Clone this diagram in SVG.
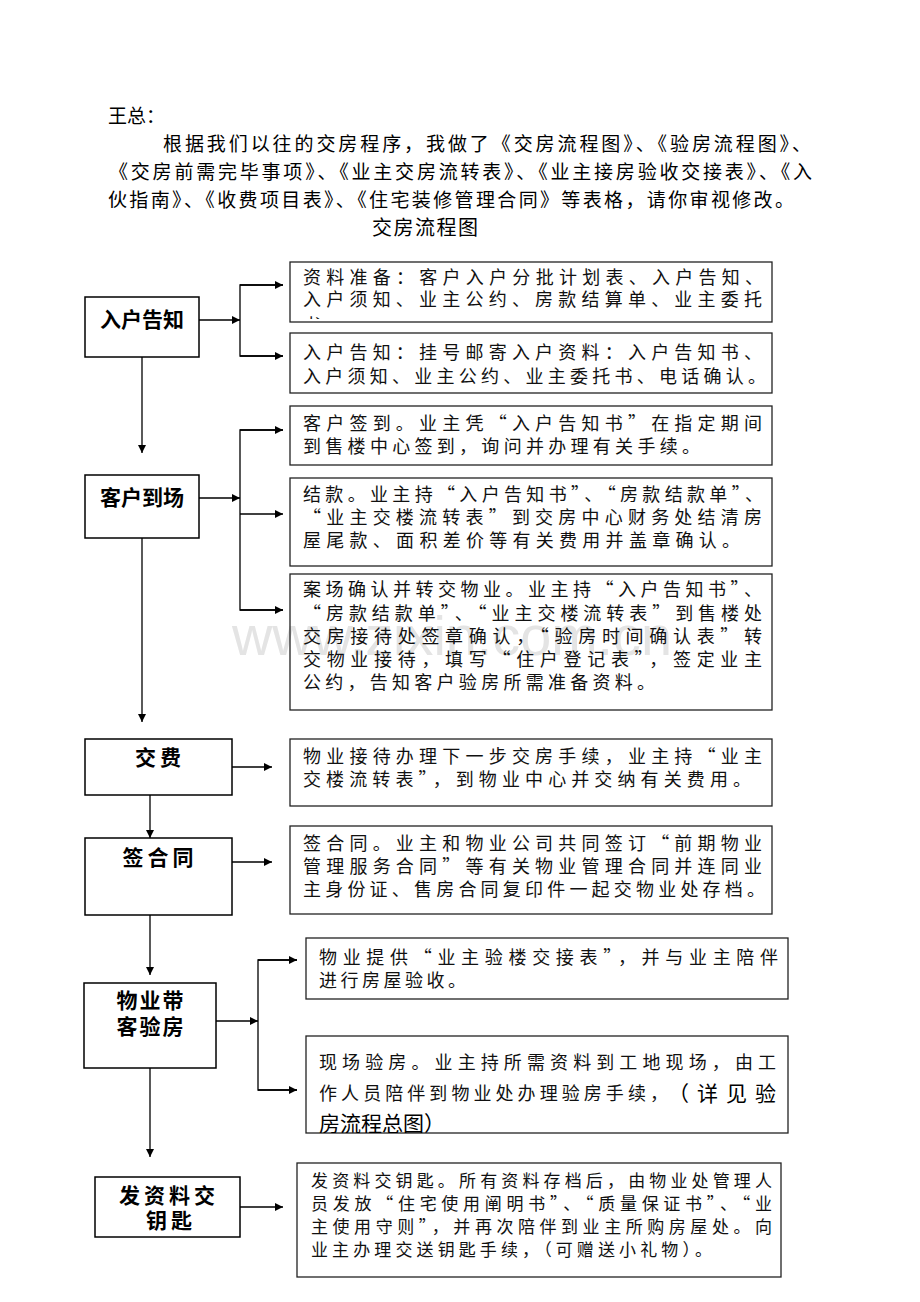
<svg xmlns="http://www.w3.org/2000/svg" width="920" height="1302" viewBox="0 0 920 1302">
<style>
.hd{font-family:"Noto Sans CJK SC","Noto Sans",sans-serif;font-size:19px;fill:#000}
.ti{font-family:"Noto Sans CJK SC","Noto Sans",sans-serif;font-size:20px;fill:#000}
.nb{fill:#fff;stroke:#000;stroke-width:1.5}
.rb{fill:none;stroke:#222;stroke-width:1.3}
.nt{font-family:"Noto Sans CJK SC","Noto Sans",sans-serif;font-size:21px;font-weight:bold;fill:#000;text-anchor:middle}
.bt{font-family:"Noto Sans CJK SC","Noto Sans",sans-serif;font-size:18px;fill:#111}
.bc{font-family:"Noto Sans CJK SC","Noto Sans",sans-serif;font-size:17px;fill:#111}
.bs{font-family:"Noto Sans CJK SC","Noto Sans",sans-serif;font-size:21px;fill:#000}
.ln{fill:none;stroke:#000;stroke-width:1.3}
.wm{font-family:"Liberation Sans",Arial,sans-serif;font-size:56px;fill:#e4e4e4}
</style>
<defs>
<marker id="ah" viewBox="0 0 10 10" refX="10" refY="5" markerWidth="8" markerHeight="8" markerUnits="userSpaceOnUse" orient="auto">
<path d="M0,0 L10,5 L0,10 z" fill="#000"/>
</marker>
<clipPath id="c1"><rect x="290" y="262" width="482" height="57"/></clipPath>
<clipPath id="c9"><rect x="306" y="1036" width="482" height="97"/></clipPath>
</defs>
<rect width="920" height="1302" fill="#fff"/>

<g id="header">
<text class="hd" x="108" y="123">王总：</text>
<text class="hd" x="163" y="151" textLength="648" lengthAdjust="spacing">根据我们以往的交房程序，我做了《交房流程图》、《验房流程图》、</text>
<text class="hd" x="109" y="179" textLength="703" lengthAdjust="spacing">《交房前需完毕事项》、《业主交房流转表》、《业主接房验收交接表》、《入</text>
<text class="hd" x="108" y="207" textLength="686" lengthAdjust="spacing">伙指南》、《收费项目表》、《住宅装修管理合同》等表格，请你审视修改。</text>
<text class="ti" x="372" y="235" textLength="106" lengthAdjust="spacing">交房流程图</text>
</g>

<text class="wm" x="232" y="655" textLength="440" lengthAdjust="spacingAndGlyphs">www.zixin.com.cn</text>

<g id="connectors">
<line class="ln" x1="199" y1="320" x2="240" y2="320" marker-end="url(#ah)"/>
<polyline class="ln" points="283,285 240,285 240,356 283,356"/>
<line class="ln" x1="240" y1="285" x2="283" y2="285" marker-end="url(#ah)"/>
<line class="ln" x1="240" y1="356" x2="283" y2="356" marker-end="url(#ah)"/>
<line class="ln" x1="142" y1="357" x2="142" y2="453" marker-end="url(#ah)"/>

<line class="ln" x1="199" y1="498" x2="240" y2="498" marker-end="url(#ah)"/>
<polyline class="ln" points="283,430 240,430 240,610 283,610"/>
<line class="ln" x1="240" y1="430" x2="283" y2="430" marker-end="url(#ah)"/>
<line class="ln" x1="240" y1="514" x2="283" y2="514" marker-end="url(#ah)"/>
<line class="ln" x1="240" y1="610" x2="283" y2="610" marker-end="url(#ah)"/>
<line class="ln" x1="142" y1="538" x2="142" y2="722" marker-end="url(#ah)"/>

<line class="ln" x1="232" y1="767" x2="272" y2="767" marker-end="url(#ah)"/>
<line class="ln" x1="150" y1="795" x2="150" y2="838" marker-end="url(#ah)"/>

<line class="ln" x1="232" y1="862" x2="272" y2="862" marker-end="url(#ah)"/>
<line class="ln" x1="150" y1="915" x2="150" y2="975" marker-end="url(#ah)"/>

<line class="ln" x1="216" y1="1021" x2="258" y2="1021" marker-end="url(#ah)"/>
<polyline class="ln" points="297,960 258,960 258,1090 297,1090"/>
<line class="ln" x1="258" y1="960" x2="297" y2="960" marker-end="url(#ah)"/>
<line class="ln" x1="258" y1="1090" x2="297" y2="1090" marker-end="url(#ah)"/>
<line class="ln" x1="150" y1="1068" x2="150" y2="1157" marker-end="url(#ah)"/>

<line class="ln" x1="240" y1="1207" x2="283" y2="1207" marker-end="url(#ah)"/>
</g>

<g id="n1">
<rect class="nb" x="85" y="297" width="114" height="60"/>
<text class="nt" x="142" y="327">入户告知</text>
</g>
<g id="n2">
<rect class="nb" x="85" y="475" width="114" height="63"/>
<text class="nt" x="142" y="505">客户到场</text>
</g>
<g id="n3">
<rect class="nb" x="85" y="739" width="147" height="56"/>
<text class="nt" x="160" y="765" letter-spacing="4">交费</text>
</g>
<g id="n4">
<rect class="nb" x="85" y="838" width="147" height="77"/>
<text class="nt" x="160" y="865" letter-spacing="4">签合同</text>
</g>
<g id="n5">
<rect class="nb" x="84" y="983" width="132" height="85"/>
<text class="nt" x="151" y="1008" letter-spacing="2">物业带</text>
<text class="nt" x="151" y="1034" letter-spacing="2">客验房</text>
</g>
<g id="n6">
<rect class="nb" x="95" y="1177" width="145" height="60"/>
<text class="nt" x="169" y="1203" letter-spacing="4">发资料交</text>
<text class="nt" x="171" y="1228" letter-spacing="4">钥匙</text>
</g>

<g id="r1">
<rect class="rb" x="290" y="262" width="482" height="60"/>
<text class="bt" x="303" y="284" textLength="460" lengthAdjust="spacing">资料准备：客户入户分批计划表、入户告知、</text>
<text class="bt" x="303" y="306" textLength="459" lengthAdjust="spacing">入户须知、业主公约、房款结算单、业主委托</text>
<text class="bt" x="303" y="332" clip-path="url(#c1)">书。</text>
</g>
<g id="r2">
<rect class="rb" x="290" y="333" width="482" height="60"/>
<text class="bt" x="303" y="359" textLength="459" lengthAdjust="spacing">入户告知：挂号邮寄入户资料：入户告知书、</text>
<text class="bt" x="303" y="383" textLength="463" lengthAdjust="spacing">入户须知、业主公约、业主委托书、电话确认。</text>
</g>
<g id="r3">
<rect class="rb" x="290" y="406" width="482" height="59"/>
<text class="bt" x="303" y="430" textLength="459" lengthAdjust="spacing">客户签到。业主凭“入户告知书”在指定期间</text>
<text class="bt" x="303" y="453" textLength="397" lengthAdjust="spacing">到售楼中心签到，询问并办理有关手续。</text>
</g>
<g id="r4">
<rect class="rb" x="290" y="478" width="482" height="88"/>
<text class="bt" x="303" y="501" textLength="460" lengthAdjust="spacing">结款。业主持“入户告知书”、“房款结款单”、</text>
<text class="bt" x="303" y="524" textLength="459" lengthAdjust="spacing">“业主交楼流转表”到交房中心财务处结清房</text>
<text class="bt" x="303" y="547" textLength="437" lengthAdjust="spacing">屋尾款、面积差价等有关费用并盖章确认。</text>
</g>
<g id="r5">
<rect class="rb" x="290" y="574" width="482" height="136"/>
<text class="bt" x="303" y="596" textLength="459" lengthAdjust="spacing">案场确认并转交物业。业主持“入户告知书”、</text>
<text class="bt" x="303" y="620" textLength="459" lengthAdjust="spacing">“房款结款单”、“业主交楼流转表”到售楼处</text>
<text class="bt" x="303" y="643" textLength="459" lengthAdjust="spacing">交房接待处签章确认，“验房时间确认表”转</text>
<text class="bt" x="303" y="666" textLength="459" lengthAdjust="spacing">交物业接待，填写“住户登记表”，签定业主</text>
<text class="bt" x="303" y="689" textLength="352" lengthAdjust="spacing">公约，告知客户验房所需准备资料。</text>
</g>
<g id="r6">
<rect class="rb" x="290" y="739" width="482" height="67"/>
<text class="bt" x="303" y="763" textLength="459" lengthAdjust="spacing">物业接待办理下一步交房手续，业主持“业主</text>
<text class="bt" x="303" y="786" textLength="448" lengthAdjust="spacing">交楼流转表”，到物业中心并交纳有关费用。</text>
</g>
<g id="r7">
<rect class="rb" x="290" y="826" width="482" height="88"/>
<text class="bt" x="303" y="850" textLength="459" lengthAdjust="spacing">签合同。业主和物业公司共同签订“前期物业</text>
<text class="bt" x="303" y="873" textLength="459" lengthAdjust="spacing">管理服务合同”等有关物业管理合同并连同业</text>
<text class="bt" x="303" y="896" textLength="462" lengthAdjust="spacing">主身份证、售房合同复印件一起交物业处存档。</text>
</g>
<g id="r8">
<rect class="rb" x="306" y="938" width="482" height="61"/>
<text class="bt" x="319" y="964" textLength="459" lengthAdjust="spacing">物业提供“业主验楼交接表”，并与业主陪伴</text>
<text class="bt" x="319" y="987" textLength="147" lengthAdjust="spacing">进行房屋验收。</text>
</g>
<g id="r9">
<rect class="rb" x="306" y="1036" width="482" height="97"/>
<text class="bt" x="319" y="1069" textLength="457" lengthAdjust="spacing">现场验房。业主持所需资料到工地现场，由工</text>
<text class="bt" x="319" y="1100" textLength="349" lengthAdjust="spacing">作人员陪伴到物业处办理验房手续，</text>
<text class="bs" x="668" y="1101" textLength="108" lengthAdjust="spacing">（详见验</text>
<text class="bs" x="319" y="1131" clip-path="url(#c9)">房流程总图）</text>
</g>
<g id="r10">
<rect class="rb" x="297" y="1163" width="484" height="114"/>
<text class="bc" x="311" y="1187" textLength="461" lengthAdjust="spacing">发资料交钥匙。所有资料存档后，由物业处管理人</text>
<text class="bc" x="311" y="1210" textLength="461" lengthAdjust="spacing">员发放“住宅使用阐明书”、“质量保证书”、“业</text>
<text class="bc" x="311" y="1233" textLength="461" lengthAdjust="spacing">主使用守则”，并再次陪伴到业主所购房屋处。向</text>
<text class="bc" x="311" y="1256" textLength="401" lengthAdjust="spacing">业主办理交送钥匙手续，（可赠送小礼物）。</text>
</g>
</svg>
